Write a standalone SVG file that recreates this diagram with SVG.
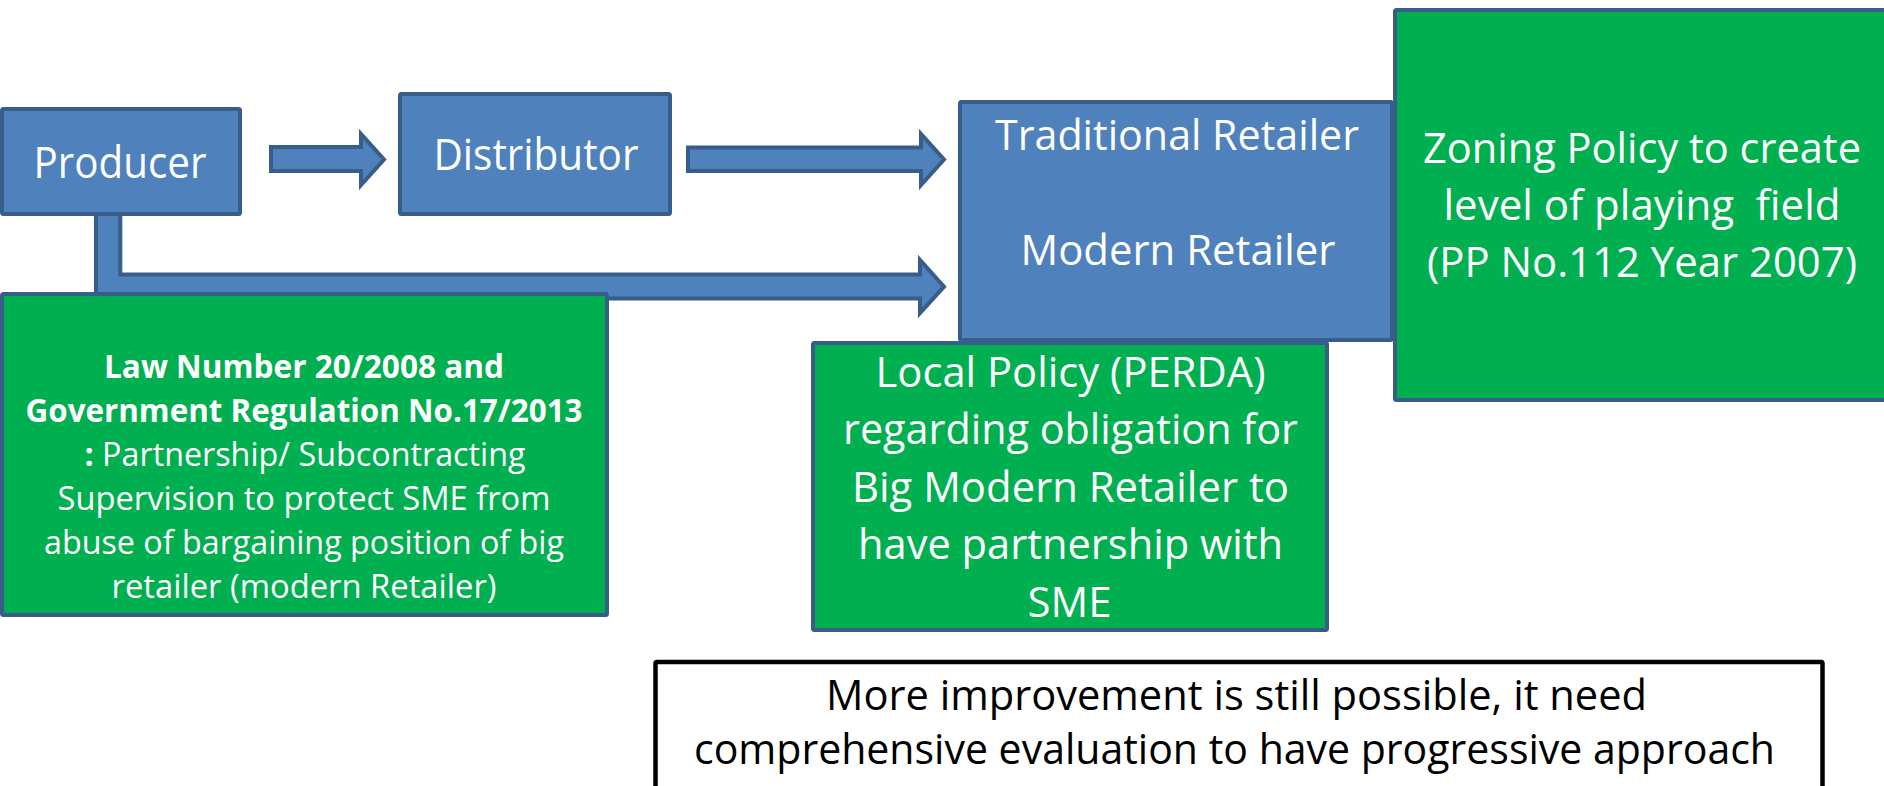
<svg xmlns="http://www.w3.org/2000/svg" width="1884" height="786" viewBox="0 0 1884 786">
<style>
.blue{fill:#4F81BD;stroke:#385D8A;stroke-width:4;stroke-linejoin:miter}
.green{fill:#00B050;stroke:#385D8A;stroke-width:4}
.note{fill:#FFFFFF;stroke:#000000;stroke-width:4.5}
.t{font-family:"Open Sans","Noto Sans","Liberation Sans",sans-serif;fill:#FFFFFF;text-anchor:middle;white-space:pre}
.k{fill:#000000}
.b{font-weight:bold}
</style>
<rect width="1884" height="786" fill="#FFFFFF"/>
<g id="connectors">
<polygon class="blue" points="271,147 361,147 361,134 384,159.5 361,185 361,171 271,171"/>
<polygon class="blue" points="688,147.5 921,147.5 921,134 944,159.5 921,185 921,171 688,171"/>
<polygon class="blue" points="96,212 120.3,212 120.3,274.5 920,274.5 920,260 944,286.7 920,313 920,298.5 96,298.5"/>
</g>
<g id="producer">
<rect class="blue" x="2" y="109" width="238" height="105" rx="1.5"/>
<text class="t" x="120" y="178" font-size="44" textLength="173" lengthAdjust="spacingAndGlyphs">Producer</text>
</g>
<g id="distributor">
<rect class="blue" x="400" y="94" width="270" height="120" rx="1.5"/>
<text class="t" x="536" y="170" font-size="43" textLength="205" lengthAdjust="spacingAndGlyphs">Distributor</text>
</g>
<g id="retailer">
<rect class="blue" x="960" y="102" width="432" height="238" rx="1.5"/>
<text class="t" x="1177" y="150" font-size="42" textLength="364" lengthAdjust="spacingAndGlyphs">Traditional Retailer</text>
<text class="t" x="1178" y="265" font-size="42" textLength="315" lengthAdjust="spacingAndGlyphs">Modern Retailer</text>
</g>
<g id="zoning">
<rect class="green" x="1395" y="10" width="493" height="390" rx="1.5"/>
<text class="t" x="1642" y="163" font-size="42" textLength="438" lengthAdjust="spacingAndGlyphs">Zoning Policy to create</text>
<text class="t" x="1642" y="220" font-size="42" textLength="397" lengthAdjust="spacingAndGlyphs">level of playing  field</text>
<text class="t" x="1642" y="277" font-size="42" textLength="430" lengthAdjust="spacingAndGlyphs">(PP No.112 Year 2007)</text>
</g>
<g id="law">
<rect class="green" x="2" y="294" width="605" height="321" rx="1.5"/>
<text class="t b" x="304" y="378" font-size="32" textLength="400" lengthAdjust="spacingAndGlyphs">Law Number 20/2008 and</text>
<text class="t b" x="304" y="422" font-size="32" textLength="557" lengthAdjust="spacingAndGlyphs">Government Regulation No.17/2013</text>
<text class="t" x="305" y="466" font-size="32" textLength="441" lengthAdjust="spacingAndGlyphs"><tspan class="b">:</tspan> Partnership/ Subcontracting</text>
<text class="t" x="304" y="510" font-size="32" textLength="493" lengthAdjust="spacingAndGlyphs">Supervision to protect SME from</text>
<text class="t" x="304" y="554" font-size="32" textLength="520" lengthAdjust="spacingAndGlyphs">abuse of bargaining position of big</text>
<text class="t" x="304" y="598" font-size="32" textLength="385" lengthAdjust="spacingAndGlyphs">retailer (modern Retailer)</text>
</g>
<g id="local">
<rect class="green" x="813" y="343" width="514" height="287" rx="1.5"/>
<text class="t" x="1070.5" y="387" font-size="42" textLength="390" lengthAdjust="spacingAndGlyphs">Local Policy (PERDA)</text>
<text class="t" x="1070.5" y="444" font-size="42" textLength="455" lengthAdjust="spacingAndGlyphs">regarding obligation for</text>
<text class="t" x="1070.5" y="502" font-size="42" textLength="437" lengthAdjust="spacingAndGlyphs">Big Modern Retailer to</text>
<text class="t" x="1070.5" y="559" font-size="42" textLength="425" lengthAdjust="spacingAndGlyphs">have partnership with</text>
<text class="t" x="1069.5" y="617" font-size="42" textLength="84" lengthAdjust="spacingAndGlyphs">SME</text>
</g>
<g id="note">
<rect class="note" x="655.5" y="662" width="1167" height="200" rx="1.5"/>
<text class="t k" x="1236.5" y="710" font-size="42" textLength="821" lengthAdjust="spacingAndGlyphs">More improvement is still possible, it need</text>
<text class="t k" x="1234.5" y="764" font-size="42" textLength="1081" lengthAdjust="spacingAndGlyphs">comprehensive evaluation to have progressive approach</text>
</g>
</svg>
